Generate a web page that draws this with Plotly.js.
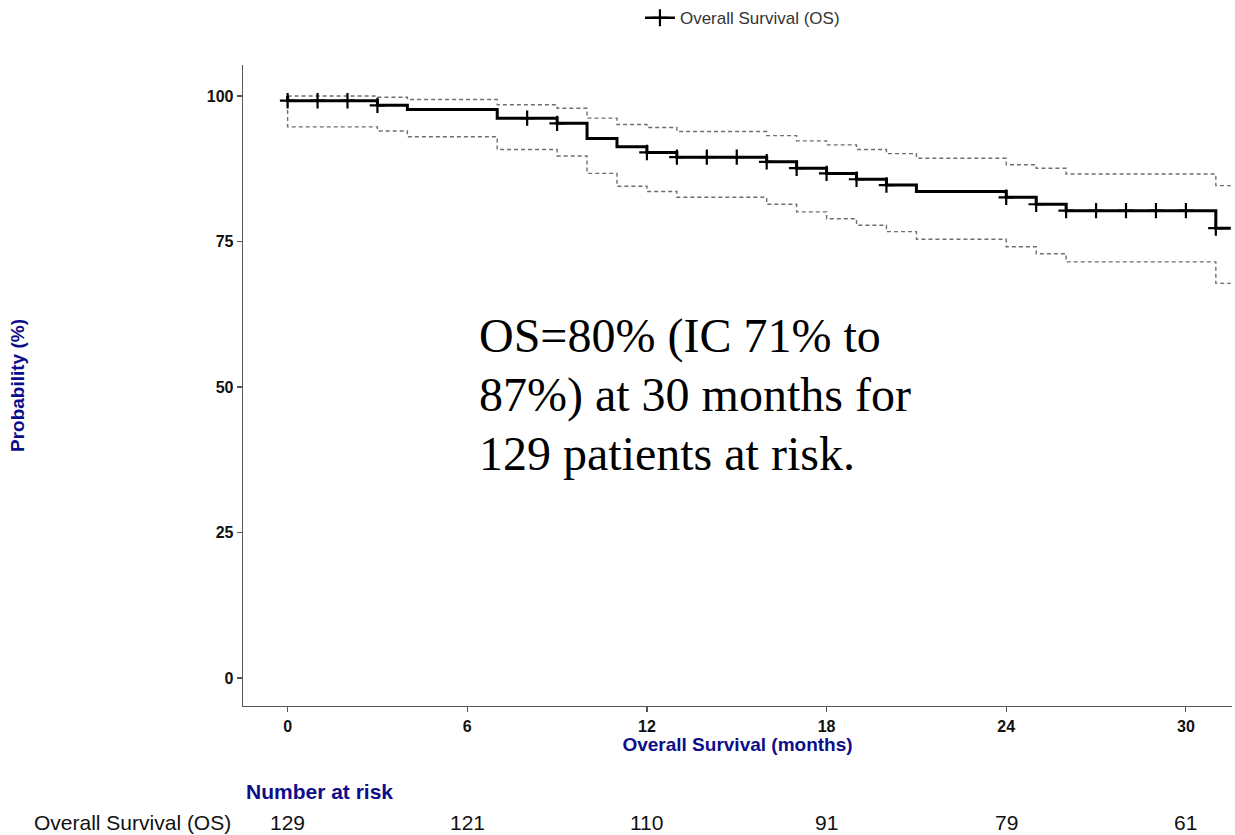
<!DOCTYPE html>
<html>
<head>
<meta charset="utf-8">
<script src="https://cdn.plot.ly/plotly-3.0.1.min.js"></script>
<style>html,body{margin:0;padding:0;background:#fff;}#chart{width:1235px;height:835px;}</style>
</head>
<body>
<div id="chart"></div>
<script>
// Kaplan-Meier step curve (months, %)
var stepTime  = [0, 0, 3, 4, 7, 9, 10, 11, 12, 13, 16, 17, 18, 19, 20, 21, 24, 25, 26, 31, 31.5];
var survival  = [100, 99.2, 98.4, 97.7, 96.2, 95.3, 92.7, 91.3, 90.3, 89.5, 88.7, 87.6, 86.7, 85.7, 84.7, 83.6, 82.6, 81.4, 80.3, 77.3, 77.3];
var upperCI   = [100, 100, 99.8, 99.4, 98.5, 97.9, 96.2, 95.1, 94.6, 93.9, 93.2, 92.3, 91.6, 90.8, 90.1, 89.3, 88.2, 87.6, 86.6, 84.6, 84.6];
var lowerCI   = [100, 94.7, 94.0, 93.0, 90.8, 89.7, 86.7, 84.5, 83.6, 82.6, 81.4, 80.1, 78.9, 77.8, 76.7, 75.4, 74.1, 72.9, 71.5, 67.8, 67.8];
// Censoring marks
var censorTime = [0, 1, 2, 3, 8, 9, 12, 13, 14, 15, 16, 17, 18, 19, 20, 24, 25, 26, 27, 28, 29, 30, 31];
var censorSurv = [99.2, 99.2, 99.2, 98.4, 96.2, 95.3, 90.3, 89.5, 89.5, 89.5, 88.7, 87.6, 86.7, 85.7, 84.7, 82.6, 81.4, 80.3, 80.3, 80.3, 80.3, 80.3, 77.3];
// Number at risk
var riskTimes = [0, 6, 12, 18, 24, 30];
var riskCounts = [129, 121, 110, 91, 79, 61];
var xTicks = [0, 6, 12, 18, 24, 30];
var yTicks = [0, 25, 50, 75, 100];
var seriesName = 'Overall Survival (OS)';
var noteLines = ['OS=80% (IC 71% to', '87%) at 30 months for', '129 patients at risk.'];

var sans = 'Liberation Sans, Arial, sans-serif';
var navy = '#0d0d8a';

var traces = [
  {x: stepTime, y: upperCI, mode: 'lines', line: {shape: 'hv', color: '#6e6e6e', width: 1.4, dash: '4px,3px'}, showlegend: false, hoverinfo: 'skip'},
  {x: stepTime, y: lowerCI, mode: 'lines', line: {shape: 'hv', color: '#6e6e6e', width: 1.4, dash: '4px,3px'}, showlegend: false, hoverinfo: 'skip'},
  {x: stepTime, y: survival, mode: 'lines', line: {shape: 'hv', color: '#000', width: 3}, showlegend: false},
  {x: censorTime, y: censorSurv, mode: 'markers', marker: {symbol: 'cross-thin', size: 11, line: {width: 2.2, color: '#000'}}, showlegend: false},
  {x: [null], y: [null], mode: 'lines+markers', name: seriesName, line: {color: '#000', width: 2.5}, marker: {symbol: 'cross-thin', size: 12, line: {width: 2.2, color: '#000'}}}
];

var annotations = [];
var noteY = [58.8, 48.6, 38.6];
noteLines.forEach(function (t, i) {
  annotations.push({x: 6.31, y: noteY[i], xref: 'x', yref: 'y', text: t, showarrow: false, xanchor: 'left', yanchor: 'middle',
    font: {family: 'Liberation Serif, Times New Roman, serif', size: 48, color: '#000'}});
});
annotations.push({xref: 'paper', yref: 'paper', x: -0.228, y: 0.5, text: 'Probability (%)', textangle: -90, showarrow: false,
  xanchor: 'center', yanchor: 'middle', font: {family: sans, size: 19, color: navy, weight: 'bold'}});
annotations.push({xref: 'paper', yref: 'paper', x: 0.001, y: -0.134, text: 'Number at risk', showarrow: false,
  xanchor: 'left', yanchor: 'middle', font: {family: sans, size: 21, color: navy, weight: 'bold'}});
annotations.push({xref: 'paper', yref: 'paper', x: -0.0101, y: -0.181, text: seriesName, showarrow: false,
  xanchor: 'right', yanchor: 'middle', font: {family: sans, size: 21, color: '#111'}});
riskTimes.forEach(function (t, i) {
  annotations.push({xref: 'x', yref: 'paper', x: t, y: -0.181, text: String(riskCounts[i]), showarrow: false,
    xanchor: 'center', yanchor: 'middle', font: {family: sans, size: 21, color: '#111'}});
});

var layout = {
  width: 1235, height: 835,
  margin: {l: 243, r: 3, t: 65, b: 129, autoexpand: false},
  paper_bgcolor: '#fff', plot_bgcolor: '#fff',
  showlegend: true,
  legend: {orientation: 'h', x: 0.505, xanchor: 'center', y: 1.073, yanchor: 'middle', font: {family: sans, size: 17, color: '#333'}},
  xaxis: {range: [-1.49, 31.54], tickvals: xTicks, ticktext: xTicks.map(String), showgrid: false, zeroline: false, automargin: false,
    showline: true, linecolor: '#555', linewidth: 1.3, ticks: 'outside', ticklen: 5, tickcolor: '#555', tickwidth: 1.2,
    tickfont: {family: sans, size: 16, color: '#111', weight: 'bold'},
    title: {text: 'Overall Survival (months)', standoff: 4, font: {family: sans, size: 19, color: navy, weight: 'bold'}}},
  yaxis: {range: [-4.81, 105.33], tickvals: yTicks, ticktext: yTicks.map(String), showgrid: false, zeroline: false, automargin: false,
    showline: true, linecolor: '#555', linewidth: 1.3, ticks: 'outside', ticklen: 5, tickcolor: '#555', tickwidth: 1.2,
    tickfont: {family: sans, size: 16, color: '#111', weight: 'bold'}},
  annotations: annotations
};

Plotly.newPlot('chart', traces, layout, {displayModeBar: false, staticPlot: true});
</script>
</body>
</html>
